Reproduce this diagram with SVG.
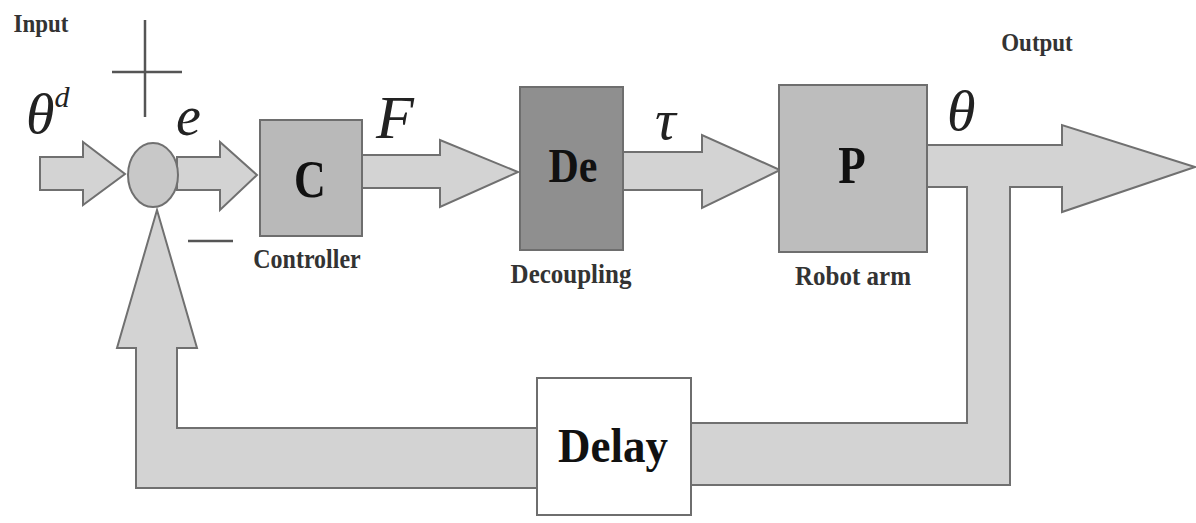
<svg xmlns="http://www.w3.org/2000/svg" width="1196" height="523" viewBox="0 0 1196 523">
  <style>
    .flow { fill: #d3d3d3; stroke: #707070; stroke-width: 2; stroke-linejoin: miter; }
    .box { stroke: #6e6e6e; stroke-width: 2; }
    .sign { stroke: #555; stroke-width: 2.5; fill: none; }
    .sym { font-family: "Liberation Serif", "Times New Roman", serif; font-style: italic; fill: #222; }
    .blk { font-family: "Liberation Serif", "Times New Roman", serif; font-weight: bold; fill: #111; text-anchor: middle; }
    .cap { font-family: "Liberation Serif", "Times New Roman", serif; font-weight: bold; fill: #333; text-anchor: middle; }
  </style>
  <rect width="1196" height="523" fill="#ffffff"/>

  <!-- signal arrows -->
  <g id="connectors">
    <polygon class="flow" points="40,157 83,157 83,142 125,174 83,205 83,190 40,190"/>
    <polygon class="flow" points="177,157 220,157 220,142 257,175 220,210 220,190 177,190"/>
    <polygon class="flow" points="362,155 440,155 440,140 518,172 440,207 440,188 362,188"/>
    <polygon class="flow" points="623,152 702,152 702,135 780,170 702,208 702,190 623,190"/>
    <!-- output with feedback branch -->
    <polygon class="flow" points="927,145 1062,145 1062,125 1195,167 1062,212 1062,187 1010,187 1010,485 691,485 691,423 967,423 967,187 927,187"/>
    <!-- feedback into summing junction -->
    <polygon class="flow" points="537,428 177,428 177,348 197,348 157,210 117,348 136,348 136,488 537,488"/>
  </g>

  <!-- summing junction -->
  <g id="sum">
    <ellipse cx="153" cy="175" rx="25" ry="32" fill="#c8c8c8" stroke="#707070" stroke-width="2"/>
    <line class="sign" x1="145" y1="20" x2="145" y2="117"/>
    <line class="sign" x1="112" y1="72" x2="182" y2="72"/>
    <line class="sign" x1="188" y1="241" x2="233" y2="241"/>
  </g>

  <g id="controller">
    <rect class="box" x="260" y="120" width="102" height="116" fill="#b9b9b9"/>
    <text class="blk" transform="translate(310,197) scale(1,1.2)" font-size="44">C</text>
    <text class="cap" transform="translate(307,268) scale(1,1.1)" font-size="24">Controller</text>
  </g>

  <g id="decoupling">
    <rect class="box" x="520" y="87" width="103" height="163" fill="#8f8f8f"/>
    <text class="blk" transform="translate(573,182) scale(1,1.15)" font-size="42">De</text>
    <text class="cap" transform="translate(571,283) scale(1,1.1)" font-size="25">Decoupling</text>
  </g>

  <g id="robot">
    <rect class="box" x="779" y="85" width="148" height="167" fill="#bdbdbd"/>
    <text class="blk" transform="translate(852,183) scale(1,1.15)" font-size="45">P</text>
    <text class="cap" transform="translate(853,285) scale(1,1.1)" font-size="25">Robot arm</text>
  </g>

  <g id="delay">
    <rect class="box" x="537" y="378" width="154" height="137" fill="#ffffff" stroke="#808080"/>
    <text class="blk" transform="translate(613,462) scale(1,1.1)" font-size="45">Delay</text>
  </g>

  <!-- signal symbols and captions -->
  <g id="labels">
    <text class="cap" transform="translate(41,32) scale(1,1.1)" font-size="23">Input</text>
    <text class="cap" transform="translate(1037,51) scale(1,1.1)" font-size="23">Output</text>
    <text class="sym" x="26" y="133" font-size="58">θ<tspan font-size="30" dy="-26">d</tspan></text>
    <text class="sym" x="176" y="135" font-size="56">e</text>
    <text class="sym" x="376" y="138" font-size="62">F</text>
    <text class="sym" x="655" y="139" font-size="58">τ</text>
    <text class="sym" x="947" y="130" font-size="58">θ</text>
  </g>
</svg>
